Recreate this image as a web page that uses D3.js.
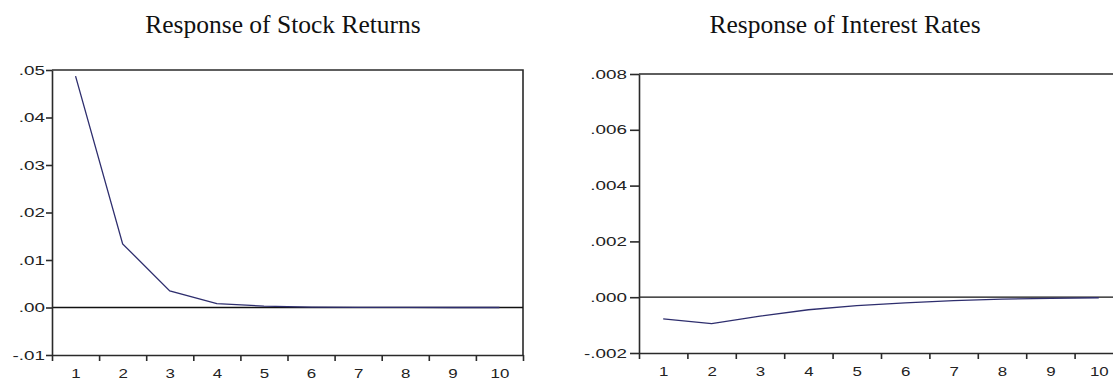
<!DOCTYPE html>
<html>
<head>
<meta charset="utf-8">
<script src="https://cdn.jsdelivr.net/npm/d3@7"></script>
<style>
  body { margin: 0; background: #fff; }
  svg { display: block; }
</style>
</head>
<body>
<div id="chart"></div>
<script>
const periods = [1, 2, 3, 4, 5, 6, 7, 8, 9, 10];

// impulse responses
const stockReturns = [0.0487, 0.0134, 0.0035, 0.0008, 0.0003, 0.0001, 0.00003, 0.00001, 0.0, 0.0];
const interestRates = [-0.00078, -0.00095, -0.00068, -0.00045, -0.0003, -0.0002, -0.00012, -0.00007, -0.00004, -0.00002];

const stockTicks = [-0.01, 0, 0.01, 0.02, 0.03, 0.04, 0.05];
const rateTicks = [-0.002, 0, 0.002, 0.004, 0.006, 0.008];

const W = 1113, H = 379;
// tick text in the source image is widened
const yStretch = 1.45;
const xStretch = 1.25;

var svg = d3.select('#chart').append('svg')
    .attr('width', W)
    .attr('height', H);

function noLeadZero(f) {
    // ".05", "-.01" like the original, with a plain hyphen
    return (d) => f(d).replace('\u2212', '-').replace('0.', '.');
}

function drawPanel(p) {
    var x = d3.scaleLinear().domain([0.5, 10.5]).range([p.x0, p.x1]);
    var y = d3.scaleLinear().domain(p.domain).range([p.yBot, p.yTop]);

    var g = svg.append('g');

    g.append('text')
        .attr('x', p.titleX)
        .attr('y', 33)
        .attr('text-anchor', 'middle')
        .style('font-family', '"Liberation Serif", "Times New Roman", serif')
        .style('font-size', '25.5px')
        .style('fill', '#111')
        .text(p.title);

    // top and right border
    g.append('path')
        .attr('d', `M${p.x0},${p.yTop}H${p.x1}V${p.yBot}`)
        .attr('fill', 'none')
        .attr('stroke', '#2a2a2a')
        .attr('stroke-width', 1.6);

    // zero line
    g.append('line')
        .attr('x1', p.x0).attr('x2', p.x1)
        .attr('y1', y(0)).attr('y2', y(0))
        .attr('stroke', '#111')
        .attr('stroke-width', 1.3);

    var line = d3.line()
        .x((d, i) => x(periods[i]))
        .y((d) => y(d));

    g.append('path')
        .datum(p.values)
        .attr('d', line)
        .attr('fill', 'none')
        .attr('stroke', '#2e2e6e')
        .attr('stroke-width', 1.3);

    // y axis
    var ya = g.append('g')
        .attr('transform', `translate(${p.x0},0)`)
        .call(d3.axisLeft(y).tickValues(p.ticks).tickSize(p.ytick).tickSizeOuter(0).tickFormat(noLeadZero(d3.format(p.fmt))));
    ya.select('.domain').attr('stroke', '#2a2a2a').attr('stroke-width', 1.6);
    ya.selectAll('.tick line').attr('stroke', '#2a2a2a').attr('stroke-width', 1.6);
    ya.selectAll('.tick text')
        .attr('x', 0)
        .attr('transform', `translate(${-(p.ytick + p.ypad)},0) scale(${yStretch},1)`)
        .style('font-family', '"Liberation Sans", Arial, sans-serif')
        .style('font-size', '13px')
        .style('fill', '#222');

    // x axis: ticks between periods
    var bounds = periods.map((d) => d - 0.5).concat([10.5]);
    var xa = g.append('g')
        .attr('transform', `translate(0,${p.yBot})`)
        .call(d3.axisBottom(x).tickValues(bounds).tickSize(6).tickSizeOuter(0).tickFormat(''));
    xa.select('.domain').attr('stroke', '#2a2a2a').attr('stroke-width', 1.6);
    xa.selectAll('.tick line').attr('stroke', '#2a2a2a').attr('stroke-width', 1.6);

    // x labels centred in each period
    var xl = g.append('g')
        .attr('transform', `translate(0,${p.yBot})`)
        .call(d3.axisBottom(x).tickValues(periods).tickSize(0).tickPadding(p.xpad).tickFormat(d3.format('d')));
    xl.select('.domain').remove();
    xl.selectAll('.tick text')
        .attr('transform', `scale(${xStretch},1)`)
        .style('font-family', '"Liberation Sans", Arial, sans-serif')
        .style('font-size', '13.5px')
        .style('fill', '#222');
}

drawPanel({
    title: 'Response of Stock Returns', titleX: 283,
    values: stockReturns, ticks: stockTicks, domain: [-0.01, 0.05], fmt: '.2f',
    x0: 52, x1: 523, yTop: 70, yBot: 355, ytick: 6, ypad: 1, xpad: 13
});

drawPanel({
    title: 'Response of Interest Rates', titleX: 845,
    values: interestRates, ticks: rateTicks, domain: [-0.002, 0.008], fmt: '.3f',
    x0: 639, x1: 1123, yTop: 74, yBot: 353, ytick: 9, ypad: 3, xpad: 13
});
</script>
</body>
</html>
